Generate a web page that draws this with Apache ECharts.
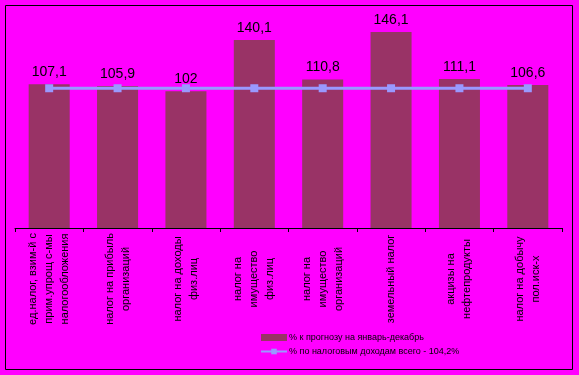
<!DOCTYPE html>
<html>
<head>
<meta charset="utf-8">
<script src="https://cdn.jsdelivr.net/npm/echarts@6/dist/echarts.min.js"></script>
<style>
html,body{margin:0;padding:0;background:#FF00FF;}
#c{width:579px;height:375px;}
</style>
</head>
<body>
<div id="c"></div>
<script>
var categories = [
  "ед.налог, взим-й с\nприм.упрощ с-мы\nналогообложения",
  "налог на прибыль\nорганизаций",
  "налог на доходы\nфиз.лиц",
  "налог на\nимущество\nфиз.лиц",
  "налог на\nимущество\nорганизаций",
  "земельный налог",
  "акцизы на\nнефтепродукты",
  "налог на добычу\nпол.иск-х"
];
var forecastPct = [107.1, 105.9, 102, 140.1, 110.8, 146.1, 111.1, 106.6];
var totalPct = [104.2, 104.2, 104.2, 104.2, 104.2, 104.2, 104.2, 104.2];
var seriesNames = ["% к прогнозу на январь-декабрь", "% по налоговым доходам всего - 104,2%"];

var chart = echarts.init(document.getElementById('c'), null, {renderer: 'canvas'});
chart.setOption({
  backgroundColor: '#FF00FF',
  animation: false,
  textStyle: {fontFamily: 'Liberation Sans, Arial, sans-serif'},
  graphic: [{
    type: 'rect', shape: {x: 5.5, y: 5.5, width: 567, height: 364},
    style: {fill: 'none', stroke: '#000', lineWidth: 1}, silent: true, z: 100
  }],
  grid: {left: 15, right: 17, top: 13.4, bottom: 147},
  legend: {
    orient: 'vertical', left: 255, top: 328, itemWidth: 26, itemHeight: 7, itemGap: 5,
    textStyle: {fontSize: 9, color: '#000', padding: [0, 0, 0, -3]},
    data: [
      {name: seriesNames[0], icon: 'rect'},
      {name: seriesNames[1]}
    ]
  },
  xAxis: {
    type: 'category', data: categories, boundaryGap: true,
    axisLine: {lineStyle: {color: '#000', width: 1}},
    axisTick: {show: true, length: 4, inside: false, alignWithLabel: false, lineStyle: {color: '#000'}},
    axisLabel: {
      interval: 0, rotate: 90, align: 'center', verticalAlign: 'middle', margin: 51,
      fontSize: 11, lineHeight: 16, color: '#000'
    }
  },
  yAxis: {type: 'value', min: 0, max: 160, show: false, splitLine: {show: false}},
  series: [
    {
      name: seriesNames[0], type: 'bar', data: forecastPct, barWidth: '60%',
      itemStyle: {color: '#993366'},
      label: {
        show: true, position: 'top', distance: 5, fontSize: 14, color: '#000',
        formatter: function (p) { return String(p.value).replace('.', ','); }
      }
    },
    {
      name: seriesNames[1], type: 'line', data: totalPct,
      symbol: 'rect', symbolSize: 8,
      lineStyle: {color: '#9999FF', width: 3},
      itemStyle: {color: '#9999FF'}
    }
  ]
});
</script>
</body>
</html>
